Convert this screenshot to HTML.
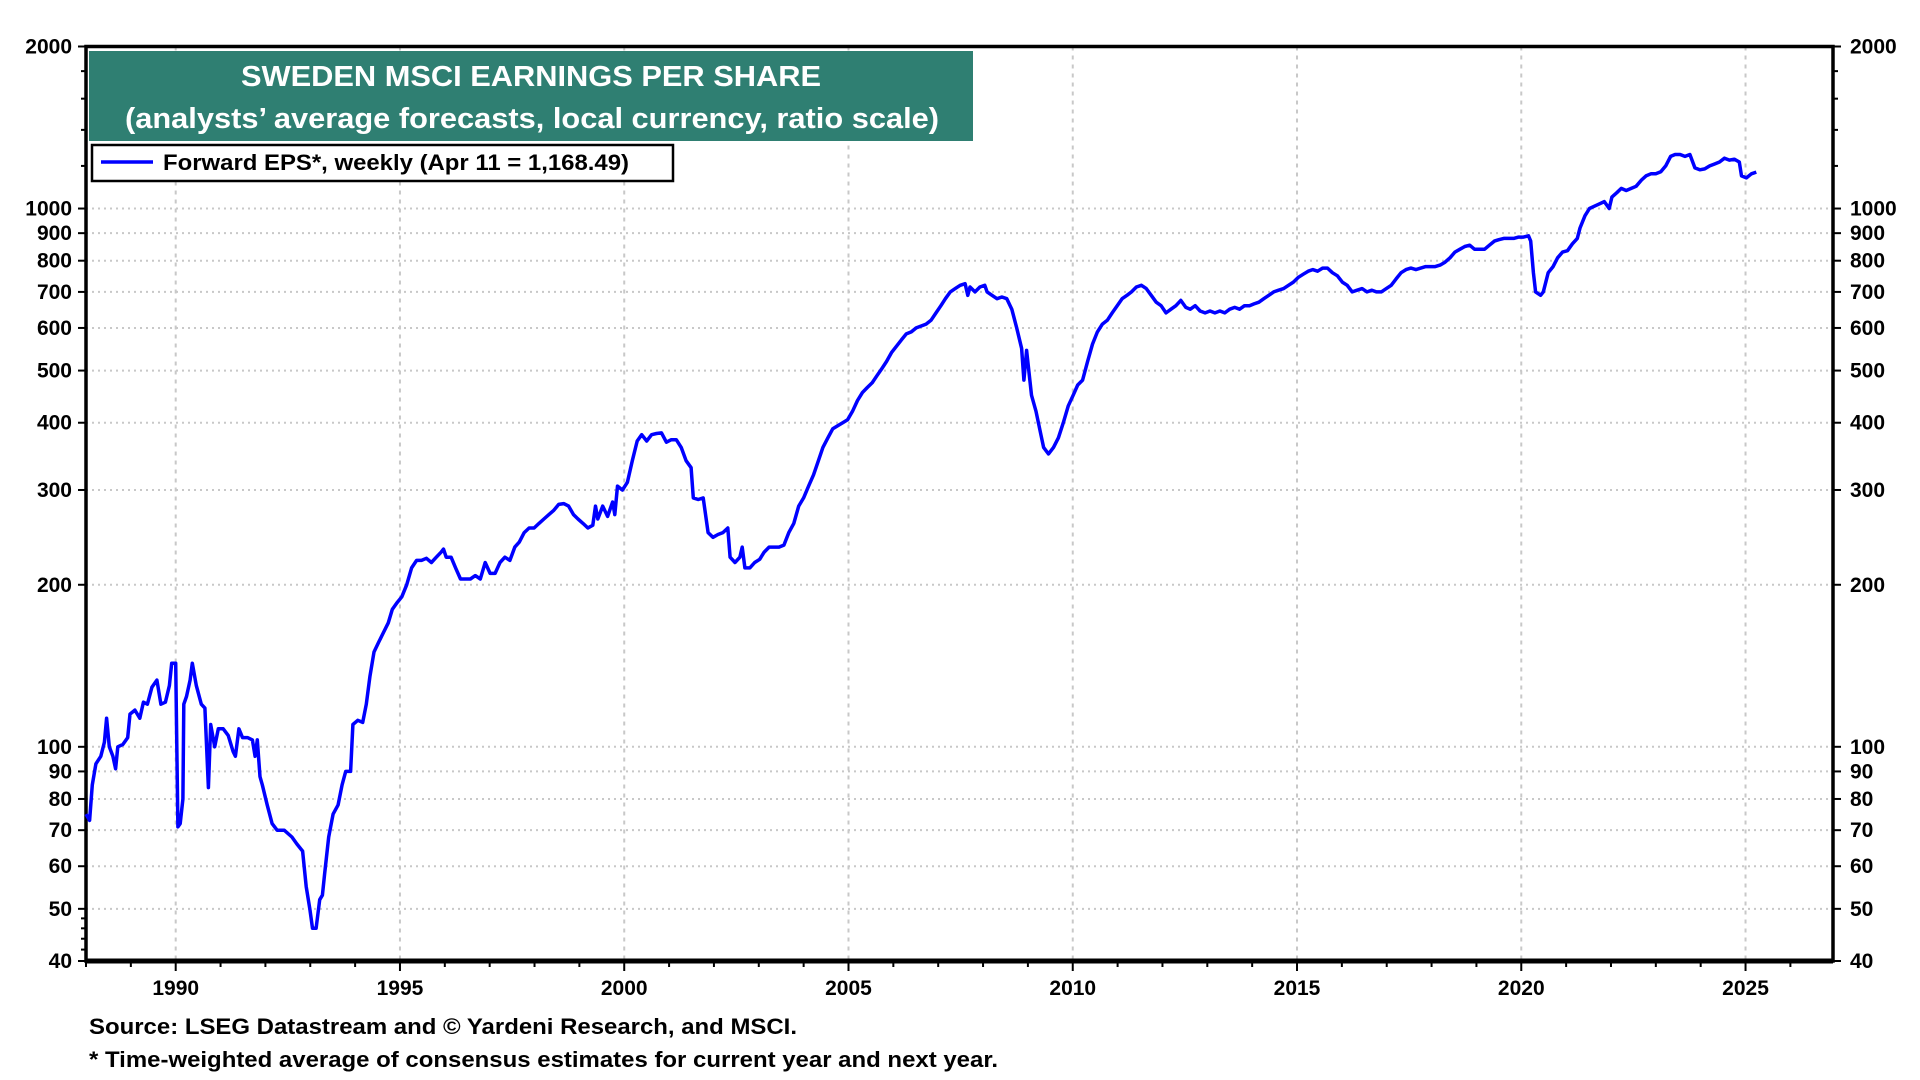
<!DOCTYPE html>
<html><head><meta charset="utf-8"><title>Sweden MSCI EPS</title>
<style>
html,body{margin:0;padding:0;background:#fff;}
svg{display:block;font-family:"Liberation Sans",Arial,sans-serif;font-weight:bold;}
</style></head>
<body>
<svg id="chart" width="1920" height="1080" viewBox="0 0 1920 1080" xmlns="http://www.w3.org/2000/svg">
<g id="grid"></g>
<g id="axes"></g>
<g id="series"></g>
<rect x="89" y="51" width="884" height="90" fill="#2f7f72"/>
<text x="531" y="86" text-anchor="middle" fill="#fff" font-size="29" textLength="580" lengthAdjust="spacingAndGlyphs">SWEDEN MSCI EARNINGS PER SHARE</text>
<text x="532" y="128" text-anchor="middle" fill="#fff" font-size="29" textLength="814" lengthAdjust="spacingAndGlyphs">(analysts’ average forecasts, local currency, ratio scale)</text>
<g>
<rect x="92" y="145" width="581" height="36" fill="#fff" stroke="#000" stroke-width="2.5"/>
<line x1="101" y1="162" x2="153" y2="162" stroke="#0000ff" stroke-width="3.5"/>
<text x="163" y="170" font-size="22" textLength="466" lengthAdjust="spacingAndGlyphs">Forward EPS*, weekly (Apr 11 = 1,168.49)</text>
</g>
<text x="89" y="1034" font-size="22" textLength="708" lengthAdjust="spacingAndGlyphs">Source: LSEG Datastream and © Yardeni Research, and MSCI.</text>
<text x="89" y="1067" font-size="22" textLength="909" lengthAdjust="spacingAndGlyphs">* Time-weighted average of consensus estimates for current year and next year.</text>
</svg>
<script>
const dates=[1988.00,1988.08,1988.14,1988.22,1988.33,1988.41,1988.46,1988.52,1988.60,1988.66,1988.71,1988.82,1988.93,1988.98,1989.09,1989.20,1989.28,1989.37,1989.47,1989.58,1989.67,1989.77,1989.86,1989.91,1990.00,1990.05,1990.10,1990.16,1990.18,1990.24,1990.32,1990.37,1990.46,1990.57,1990.65,1990.73,1990.78,1990.87,1990.95,1991.06,1991.17,1991.28,1991.33,1991.41,1991.49,1991.60,1991.71,1991.77,1991.82,1991.88,1991.93,1992.04,1992.15,1992.26,1992.42,1992.59,1992.70,1992.83,1992.91,1992.99,1993.05,1993.13,1993.21,1993.27,1993.32,1993.41,1993.51,1993.62,1993.71,1993.79,1993.90,1993.95,1994.06,1994.17,1994.25,1994.33,1994.42,1994.52,1994.63,1994.74,1994.83,1994.93,1995.04,1995.15,1995.26,1995.37,1995.48,1995.59,1995.70,1995.81,1995.92,1995.97,1996.03,1996.14,1996.24,1996.35,1996.46,1996.57,1996.68,1996.79,1996.90,1997.01,1997.12,1997.23,1997.34,1997.45,1997.56,1997.66,1997.77,1997.88,1997.99,1998.10,1998.21,1998.32,1998.43,1998.54,1998.65,1998.76,1998.87,1998.97,1999.08,1999.19,1999.30,1999.36,1999.41,1999.52,1999.63,1999.74,1999.79,1999.85,1999.96,2000.07,2000.18,2000.29,2000.39,2000.50,2000.61,2000.72,2000.83,2000.94,2001.05,2001.16,2001.27,2001.38,2001.49,2001.54,2001.65,2001.76,2001.87,2001.98,2002.09,2002.20,2002.31,2002.36,2002.47,2002.58,2002.63,2002.69,2002.80,2002.91,2003.02,2003.12,2003.23,2003.34,2003.45,2003.56,2003.67,2003.78,2003.89,2004.00,2004.11,2004.22,2004.33,2004.43,2004.54,2004.65,2004.76,2004.87,2004.98,2005.09,2005.20,2005.31,2005.42,2005.53,2005.64,2005.75,2005.85,2005.96,2006.07,2006.18,2006.29,2006.40,2006.51,2006.62,2006.73,2006.84,2006.95,2007.06,2007.16,2007.27,2007.38,2007.49,2007.60,2007.66,2007.71,2007.82,2007.93,2008.04,2008.09,2008.20,2008.31,2008.42,2008.53,2008.64,2008.75,2008.86,2008.91,2008.97,2009.08,2009.18,2009.29,2009.35,2009.46,2009.57,2009.68,2009.79,2009.90,2010.01,2010.11,2010.22,2010.33,2010.44,2010.55,2010.66,2010.77,2010.88,2010.99,2011.10,2011.21,2011.31,2011.42,2011.53,2011.64,2011.75,2011.86,2011.97,2012.08,2012.19,2012.30,2012.41,2012.52,2012.62,2012.73,2012.84,2012.95,2013.06,2013.17,2013.28,2013.39,2013.50,2013.61,2013.72,2013.83,2013.94,2014.04,2014.15,2014.26,2014.37,2014.48,2014.59,2014.70,2014.81,2014.92,2015.03,2015.14,2015.25,2015.35,2015.46,2015.57,2015.68,2015.79,2015.90,2016.01,2016.12,2016.23,2016.34,2016.45,2016.56,2016.67,2016.77,2016.88,2016.99,2017.10,2017.21,2017.32,2017.43,2017.54,2017.65,2017.76,2017.87,2017.98,2018.08,2018.19,2018.30,2018.41,2018.52,2018.63,2018.74,2018.85,2018.96,2019.07,2019.18,2019.29,2019.40,2019.50,2019.61,2019.72,2019.83,2019.94,2020.05,2020.16,2020.21,2020.27,2020.32,2020.43,2020.49,2020.60,2020.71,2020.81,2020.92,2021.03,2021.14,2021.25,2021.31,2021.42,2021.52,2021.63,2021.74,2021.85,2021.96,2022.02,2022.13,2022.23,2022.34,2022.45,2022.56,2022.68,2022.78,2022.89,2023.00,2023.11,2023.22,2023.33,2023.43,2023.54,2023.65,2023.76,2023.87,2023.98,2024.09,2024.20,2024.31,2024.42,2024.53,2024.64,2024.75,2024.86,2024.91,2025.02,2025.13,2025.24];
const epsValues=[75,73,85,93,96,102,113,100,96,91,100,101,104,115,117,113,121,120,129,133,120,121,130,143,143,71,72,80,120,124,133,143,130,120,118,84,110,100,108,108,105,98,96,108,104,104,103,96,103,88,85,78,72,70,70,68,66,64,55,50,46,46,52,53,58,68,75,78,85,90,90,110,112,111,120,135,150,156,163,170,180,185,190,200,215,222,222,224,220,225,230,233,225,225,215,205,205,205,208,205,220,210,210,220,225,222,235,240,250,255,255,260,265,270,275,282,283,280,270,265,260,255,258,280,265,280,268,285,270,305,300,310,340,370,380,370,380,382,383,368,372,372,360,340,330,290,288,290,250,245,248,250,255,225,220,225,235,215,215,220,223,230,235,235,235,237,250,260,280,290,305,320,340,360,375,390,395,400,405,420,440,455,465,475,490,505,520,540,555,570,585,590,600,605,610,620,640,660,680,700,710,720,725,690,715,700,715,720,700,690,680,685,680,650,600,550,480,545,450,420,380,360,350,360,375,400,430,450,470,480,520,560,590,610,620,640,660,680,690,700,715,720,710,690,670,660,640,650,660,675,655,650,660,645,640,645,640,645,640,650,655,650,660,660,665,670,680,690,700,705,710,720,730,745,755,765,770,765,775,775,760,750,730,720,700,705,710,700,705,700,700,710,720,740,760,770,775,770,775,780,780,780,785,795,810,830,840,850,855,840,840,840,855,870,875,880,880,880,885,885,890,870,760,700,690,700,760,780,810,830,835,860,880,920,970,1000,1010,1020,1030,1000,1050,1070,1090,1080,1090,1100,1130,1150,1160,1160,1170,1200,1250,1260,1260,1250,1260,1190,1180,1185,1200,1210,1220,1240,1230,1235,1220,1150,1140,1160,1168.49];
const yTickValues=[40,50,60,70,80,90,100,200,300,400,500,600,700,800,900,1000,2000];
const yTickLabels=["40","50","60","70","80","90","100","200","300","400","500","600","700","800","900","1000","2000"];
const xTickYears=[1990,1995,2000,2005,2010,2015,2020,2025];
const xTickLabels=["1990","1995","2000","2005","2010","2015","2020","2025"];

const L=86,R=1833,T=46.5,B=961;
const X0=1988.0,X1=2026.95,Y0=40,Y1=2000;
const NS="http://www.w3.org/2000/svg";
function xs(v){return L+(v-X0)/(X1-X0)*(R-L);}
function ys(v){return B-(Math.log(v)-Math.log(Y0))/(Math.log(Y1)-Math.log(Y0))*(B-T);}
function mk(tag,attrs,parent){const e=document.createElementNS(NS,tag);for(const k in attrs)e.setAttribute(k,attrs[k]);parent.appendChild(e);return e;}
const grid=document.getElementById('grid'),axes=document.getElementById('axes'),series=document.getElementById('series');

yTickValues.forEach((v,i)=>{
  const y=ys(v);
  if(v>Y0&&v<Y1){const g=mk('line',{x1:L,x2:R,y1:y,y2:y,stroke:'#c8c8c8','stroke-width':2,'stroke-dasharray':'2 4'},grid);
  
  }
  const tl=mk('line',{x1:L-8,x2:L,y1:y,y2:y,stroke:'#000','stroke-width':2},axes);
  
  
  const tr=mk('line',{x1:R,x2:R+8,y1:y,y2:y,stroke:'#000','stroke-width':2},axes);
  
  
  const a=mk('text',{x:L-14,y:y+7,'text-anchor':'end','font-size':21},axes);a.textContent=yTickLabels[i];
  
  
  const b=mk('text',{x:R+17,y:y+7,'text-anchor':'start','font-size':21},axes);b.textContent=yTickLabels[i];
  
  
});
// minor y ticks
[1200,1400,1600,1800].forEach(v=>{
  const y=ys(v);
  const a=mk('line',{x1:L-5,x2:L,y1:y,y2:y,stroke:'#000','stroke-width':2},axes);
  
  
  const b=mk('line',{x1:R,x2:R+5,y1:y,y2:y,stroke:'#000','stroke-width':2},axes);
  
  
});
[42,44,46,48].forEach(v=>{
  const y=ys(v);
  const a=mk('line',{x1:L-5,x2:L,y1:y,y2:y,stroke:'#000','stroke-width':2},axes);
  
  
});
xTickYears.forEach((yr,i)=>{
  const x=xs(yr);
  const g=mk('line',{x1:x,x2:x,y1:T,y2:B,stroke:'#c8c8c8','stroke-width':2,'stroke-dasharray':'4 5'},grid);
  
  
  const t=mk('text',{x:x,y:995,'text-anchor':'middle','font-size':21},axes);t.textContent=xTickLabels[i];
  
  
});
for(let yr=1988;yr<=2026;yr++){
  const x=xs(yr);
  const big=yr%5===0;
  const t=mk('line',{x1:x,x2:x,y1:B,y2:B+(big?10:6),stroke:'#000','stroke-width':2},axes);
  
  
}
const frame=mk('rect',{x:L,y:T,width:R-L,height:B-T,fill:'none',stroke:'#000','stroke-width':3.5},axes);


const base=mk('line',{x1:L,x2:R,y1:B,y2:B,stroke:'#000','stroke-width':5},axes);



const d=dates.map((t,i)=>(i?'L':'M')+xs(t).toFixed(1)+' '+ys(epsValues[i]).toFixed(1)).join(' ');
const p=mk('path',{d:d,fill:'none',stroke:'#0000ff','stroke-width':3.5,'stroke-linejoin':'round'},series);


</script>
</body></html>
